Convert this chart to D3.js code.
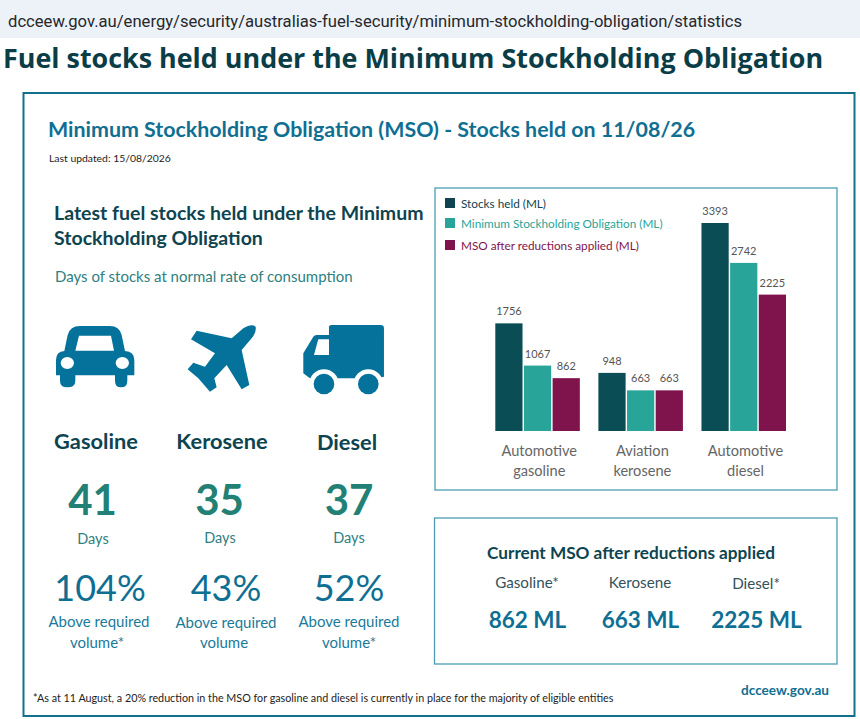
<!DOCTYPE html>
<html><head><meta charset="utf-8"><title>Fuel stocks</title>
<script src="https://cdn.jsdelivr.net/npm/d3@7"></script>
<style>html,body{margin:0;padding:0;background:#fff}svg{display:block}text{font-family:Lato,sans-serif}</style>
</head><body><div id="c"></div>
<script>
const categories = [["Automotive","gasoline"],["Aviation","kerosene"],["Automotive","diesel"]];
const seriesNames = ["Stocks held (ML)","Minimum Stockholding Obligation (ML)","MSO after reductions applied (ML)"];
const stocksHeld = [1756,948,3393];
const msoBase = [1067,663,2742];
const msoReduced = [862,663,2225];
const fuels = ["Gasoline","Kerosene","Diesel"];
const days = [41,35,37];
const above = ["104%","43%","52%"];
const volumeNotes = ["volume*","volume","volume*"];
const currentLabels = ["Gasoline*","Kerosene","Diesel*"];
const currentValues = ["862 ML","663 ML","2225 ML"];

const dark="#0b4d55", teal="#28a499", plum="#7f144d", blue="#0f6f93", ink="#0e4450";
const colors=[dark,teal,plum], legendColors=["#0e4450","#28a499","#7f144d"];
const svg=d3.select("#c").append("svg").attr("width",860).attr("height",719);
const T=(x,y,s,size,fill,o={})=>svg.append("text").attr("x",x).attr("y",y).text(s)
  .attr("font-size",size).attr("fill",fill).attr("text-anchor",o.a||"start")
  .attr("font-weight",o.w||400).style("font-family",o.f||"Lato,sans-serif");

// browser strip and page heading
svg.append("rect").attr("width",860).attr("height",38).attr("y",0).attr("fill","#edf1f8");
T(8,27,"dcceew.gov.au/energy/security/australias-fuel-security/minimum-stockholding-obligation/statistics",16.64,"#26282b",{f:"Roboto,sans-serif"});
T(3,68,"Fuel stocks held under the Minimum Stockholding Obligation",26.9,"#0b3d47",{w:700,f:"'Open Sans',sans-serif"});

// frames
const frame=(x,y,w,h,c,sw)=>svg.append("rect").attr("x",x).attr("y",y).attr("width",w).attr("height",h).attr("fill","none").attr("stroke",c).attr("stroke-width",sw);
frame(23.5,93,831,623,"#12708f",2);
frame(435,188,402,302,"#4a9db5",1.3);
frame(434.5,518,402.5,146,"#4a9db5",1.3);

T(48,137,"Minimum Stockholding Obligation (MSO) - Stocks held on 11/08/26",21.4,blue,{w:700});
T(49,162,"Last updated: 15/08/2026",10.4,"#1b1b1b");
T(54,220,"Latest fuel stocks held under the Minimum",19.5,ink,{w:700});
T(54,245,"Stockholding Obligation",19.5,ink,{w:700});
T(55,282,"Days of stocks at normal rate of consumption",15,"#2f8080");

// icons, in crop units
const icon=svg.append("g").attr("transform","translate(30,310) scale(0.3333)").attr("fill","#04729b");
icon.append("path").attr("fill-rule","evenodd").attr("d","M113 75 Q120 48 150 48 L240 48 Q268 48 275 75 L285 123 Q313 125 313 150 L313 196 L292 196 L292 212 Q292 232 273 232 Q255 232 255 212 L255 196 L136 196 L136 212 Q136 232 112 232 Q90 232 90 212 L90 196 L78 196 L78 150 Q78 125 103 123 Z M147 77 L136 122 L252 122 L243 77 Z");
icon.append("ellipse").attr("cx",112).attr("cy",159).attr("rx",20).attr("ry",18).attr("fill","#fff");
icon.append("ellipse").attr("cx",277).attr("cy",159).attr("rx",20).attr("ry",18).attr("fill","#fff");
icon.append("path").attr("d","M483 88 L500 62 L605 85 L640 55 Q665 40 677 50 Q680 65 665 85 L635 120 L658 225 L635 238 L590 165 L553 205 L560 232 L540 245 L505 205 L473 178 L490 158 L525 170 L555 130 Z");
icon.append("path").attr("d","M897 52 Q897 45 905 45 L1052 45 Q1062 45 1062 55 L1062 200 L820 190 L820 130 L850 80 Q853 75 860 75 L897 75 Z M1062 200 L1040 205 L840 205 L820 190 Z");
icon.append("path").attr("fill","#fff").attr("d","M865 88 L897 88 L897 135 L852 135 Z");
[882,1015].forEach(cx=>{
  icon.append("circle").attr("cx",cx).attr("cy",222).attr("r",44).attr("fill","#fff");
  icon.append("circle").attr("cx",cx).attr("cy",222).attr("r",31);
});

// fuel columns
const fuelX=[96,222,347], fuelY=[449,449,450];
const dayX=[92.5,219.5,349], dayLblX=[93,220,349], dayLblY=[544,543,543];
const pctX=[100,226,349], aboveX=[99,226,349], aboveY=[627,628,627], volX=[97,224,349];
fuels.forEach((f,i)=>{
  T(fuelX[i],fuelY[i],f,21.8,ink,{a:"middle",w:700});
  T(dayX[i],515,days[i],42,"#238074",{a:"middle",w:700});
  T(dayLblX[i],dayLblY[i],"Days",14.5,"#2f8080",{a:"middle"});
  T(pctX[i],601,above[i],36,blue,{a:"middle"});
  T(aboveX[i],aboveY[i],"Above required",15,"#1a7a9a",{a:"middle"});
  T(volX[i],648,volumeNotes[i],15,"#1a7a9a",{a:"middle"});
});
T(33,702,"*As at 11 August, a 20% reduction in the MSO for gasoline and diesel is currently in place for the majority of eligible entities",10.75,"#222");
T(785,695,"dcceew.gov.au",13.6,blue,{a:"middle",w:700});

// bar chart
const series=[stocksHeld,msoBase,msoReduced];
const x0=d3.scaleBand().domain(d3.range(categories.length)).range([495.3,786]).paddingInner(0.18).paddingOuter(0);
const x1=d3.scaleBand().domain(d3.range(series.length)).range([0,x0.bandwidth()]).paddingInner(0.05).paddingOuter(0);
const y=d3.scaleLinear().domain([0,d3.max(stocksHeld)]).range([431,223]);
const groups=svg.selectAll("g.grp").data(categories).join("g").attr("class","grp")
  .attr("transform",(d,i)=>`translate(${x0(i)},0)`);
groups.each(function(d,i){
  const g=d3.select(this);
  series.forEach((s,k)=>{
    g.append("rect").attr("x",x1(k)).attr("y",y(s[i])).attr("width",x1.bandwidth()).attr("height",y(0)-y(s[i])).attr("fill",colors[k]);
    g.append("text").attr("x",x1(k)+x1.bandwidth()/2).attr("y",y(s[i])-8).attr("text-anchor","middle").attr("font-size",11).attr("fill","#555").text(s[i]);
  });
  d.forEach((line,j)=>g.append("text").attr("x",x0.bandwidth()/2+1.7).attr("y",456+j*20).attr("text-anchor","middle").attr("font-size",14.6).attr("fill","#666").text(line));
});

// legend
const legY=[198,218,240], legTY=[208,228,250];
seriesNames.forEach((n,i)=>{
  svg.append("rect").attr("x",445).attr("y",legY[i]).attr("width",10).attr("height",10).attr("fill",legendColors[i]);
  T(461,legTY[i],n,11.75,legendColors[i]);
});

// current MSO box
T(631,559,"Current MSO after reductions applied",17.2,ink,{a:"middle",w:700});
const curX=[527,640,756], curY=[588,588,589];
currentLabels.forEach((l,i)=>{
  T(curX[i],curY[i],l,15.2,"#33525a",{a:"middle"});
  T(curX[i]+.5,628,currentValues[i],22.5,blue,{a:"middle",w:700});
});
</script></body></html>
